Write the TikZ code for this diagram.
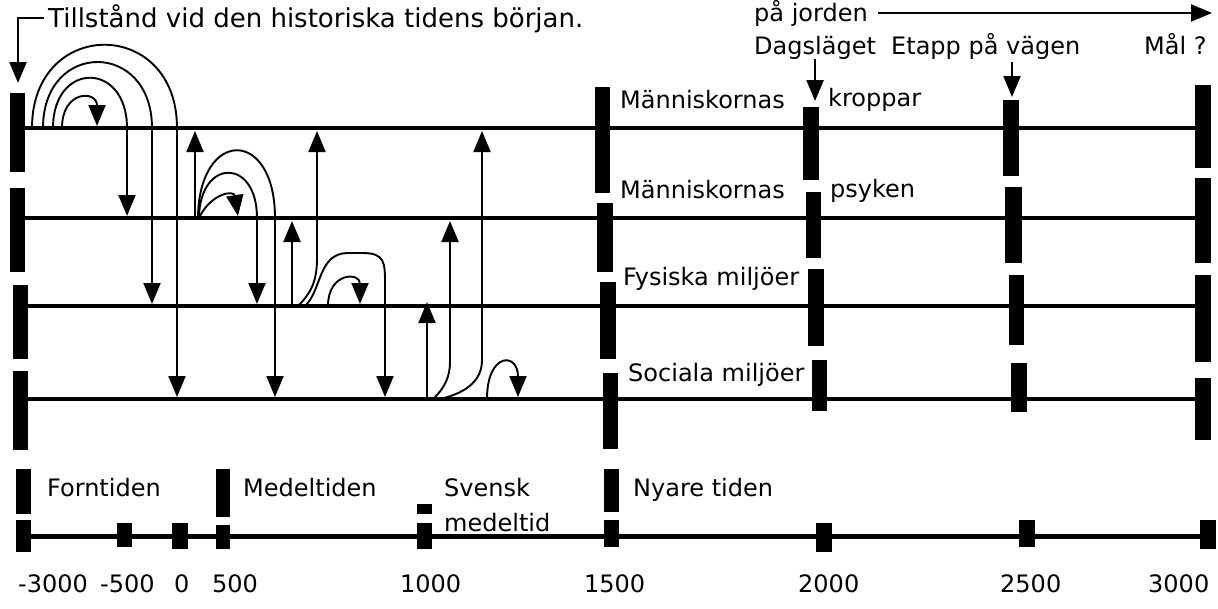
\documentclass[tikz,border=0pt]{standalone}
\usepackage{fontspec}
\setmainfont{DejaVu Sans}
\usetikzlibrary{arrows.meta}
\tikzset{
  font=\fontsize{24}{27}\selectfont,
  >={Triangle[length=21pt, width=17pt]},
  %
  track/.style={line width=4.5pt},
  axis/.style={line width=5pt},
  bar/.style={fill=black},
  %
  effect/.style={line width=2.2pt, ->},
  curl/.style={line width=1.9pt, ->},
  %
  lbl/.style={anchor=base west, inner sep=0pt},
}

\begin{document}
\begin{tikzpicture}[x=1pt, y=-1pt]
\useasboundingbox (0,0) rectangle (1218,608);

\def\ya{128}
\def\yb{218}
\def\yc{306}
\def\yd{399}
\def\yt{536}

% =========================================================================
% the four levels
\draw[track] (25,\ya) -- (1203,\ya);
\draw[track] (25,\yb) -- (1203,\yb);
\draw[track] (25,\yc) -- (1203,\yc);
\draw[track] (25,\yd) -- (1203,\yd);

\fill[bar] (10,93) rectangle (25,172);
\fill[bar] (10,188) rectangle (25,272);
\fill[bar] (13,285) rectangle (28,359);
\fill[bar] (13,371) rectangle (28,450);

\fill[bar] (595,87) rectangle (610,193);
\fill[bar] (597,203) rectangle (613,272);
\fill[bar] (600,282) rectangle (616,359);
\fill[bar] (603,373) rectangle (618,449);

\fill[bar] (803,107) rectangle (819,180);
\fill[bar] (806,192) rectangle (821,258);
\fill[bar] (808,269) rectangle (824,346);
\fill[bar] (812,360) rectangle (827,411);

\fill[bar] (1003,100) rectangle (1019,176);
\fill[bar] (1005,187) rectangle (1022,263);
\fill[bar] (1009,275) rectangle (1024,345);
\fill[bar] (1011,363) rectangle (1027,412);

\fill[bar] (1195,85) rectangle (1211,168);
\fill[bar] (1195,178) rectangle (1211,263);
\fill[bar] (1195,275) rectangle (1211,362);
\fill[bar] (1195,378) rectangle (1211,440);

\node[lbl] (kropp1) at (620,108) {Människornas};
\node[lbl] (kropp2) at (828,106) {kroppar};
\node[lbl] (psyk1) at (620,198) {Människornas};
\node[lbl] (psyk2) at (830,197) {psyken};
\node[lbl] (fys) at (623,285) {Fysiska miljöer};
\node[lbl] (soc) at (628,381) {Sociala miljöer};

% =========================================================================
% headings
\node[lbl, font=\fontsize{26}{29}\selectfont] (title) at (48,27)
  {Tillstånd vid den historiska tidens början.};
\draw[effect] ([xshift=-4pt]title.west) -| (18,83);

\node[lbl] (jorden) at (754,21) {på jorden};
\node[lbl] (dag) at (754,54) {Dagsläget};
\node[lbl] (etapp) at (891,54) {Etapp på vägen};
\node[lbl] (mal) at (1144,54) {Mål ?};
\draw[effect] ([xshift=10pt]jorden.east) -- (jorden.east -| 1212,0);
\draw[effect] (dag.south) -- (dag.south |- 0,101);
\draw[effect] (1012,62) -- (1012,97);

% =========================================================================
% influences between the levels
\draw[curl] (32,\ya) .. controls (32,17) and (177,17) .. (177,\ya) -- (177,397);
\draw[curl] (43,\ya) .. controls (43,40) and (152,40) .. (152,\ya) -- (152,304);
\draw[curl] (53,\ya) .. controls (53,61) and (127,61) .. (127,\ya) -- (127,216);
\draw[curl] (62,\ya) .. controls (62,90) and (97,90) .. (97,126);

\draw[effect] (195,\yb) -- (195,131);
\draw[curl] (198,216) .. controls (200,128) and (275,128) .. (275,\yb) -- (275,397);
\draw[curl] (199,216) .. controls (201,158) and (257,158) .. (257,\yb) -- (257,304);
\draw[curl] (200,216) .. controls (212,193) and (234,190) .. (238,216);

\draw[effect] (292,\yc) -- (292,221);
\draw[curl] (298,\yc) .. controls (312,292) and (317,280) .. (317,258) -- (317,131);
\draw[curl] (305,\yc) .. controls (322,290) and (318,253) .. (348,253) -- (362,253)
      .. controls (385,253) and (385,262) .. (385,285) -- (385,397);
\draw[curl] (328,\yc) .. controls (328,272) and (360,272) .. (360,304);

\draw[effect] (427,\yd) -- (427,302);
\draw[curl] (433,\yd) .. controls (445,388) and (450,376) .. (450,362) -- (450,221);
\draw[curl] (440,\yd) .. controls (470,392) and (482,378) .. (482,360) -- (482,131);
\draw[curl] (487,\yd) .. controls (487,352) and (518,352) .. (518,397);

% =========================================================================
% time axis
\draw[axis] (23,\yt) -- (1208,\yt);

\fill[bar] (16,469) rectangle (31,514);
\fill[bar] (216,469) rectangle (230,517);
\fill[bar] (417,504) rectangle (432,514);
\fill[bar] (604,469) rectangle (619,512);

\fill[bar] (16,520) rectangle (31,552);
\fill[bar] (117,523) rectangle (132,547);
\fill[bar] (172,523) rectangle (188,549);
\fill[bar] (216,525) rectangle (230,549);
\fill[bar] (417,523) rectangle (432,549);
\fill[bar] (604,520) rectangle (619,547);
\fill[bar] (816,523) rectangle (832,552);
\fill[bar] (1019,520) rectangle (1035,547);
\fill[bar] (1200,520) rectangle (1216,549);

\node[lbl] (forn) at (47,496) {Forntiden};
\node[lbl] (medel) at (243,496) {Medeltiden};
\node[lbl] (svensk) at (444,496) {Svensk};
\node[lbl] (svmed) at (444,531) {medeltid};
\node[lbl] (nyare) at (633,496) {Nyare tiden};

\node[lbl] (m3000) at (18,592) {-3000};
\node[lbl] (m500) at (100,592) {-500};
\node[lbl] (y0) at (174,592) {0};
\node[lbl] (y500) at (212,592) {500};
\node[lbl] (y1000) at (400,592) {1000};
\node[lbl] (y1500) at (584,592) {1500};
\node[lbl] (y2000) at (798,592) {2000};
\node[lbl] (y2500) at (1000,592) {2500};
\node[lbl] (y3000) at (1148,592) {3000};

\end{tikzpicture}
\end{document}
